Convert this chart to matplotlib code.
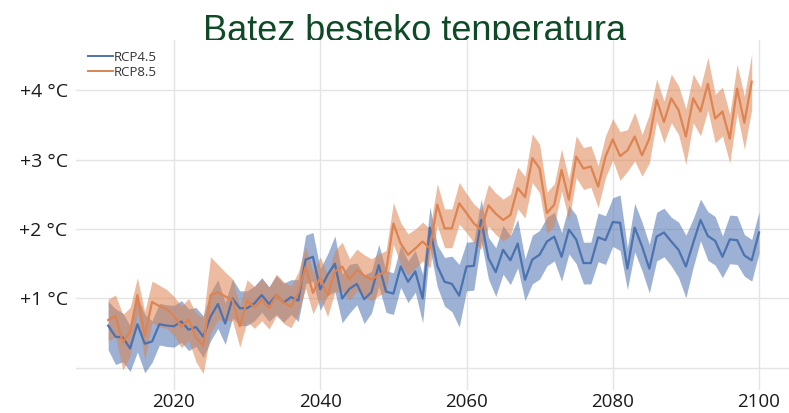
import matplotlib
matplotlib.use('Agg')
import matplotlib.pyplot as plt
import numpy as np

years_45 = list(range(2011, 2101))
years_85 = list(range(2011, 2100))

rcp45 = [0.61, 0.45, 0.44, 0.28, 0.63, 0.35, 0.38, 0.63, 0.61, 0.60,
         0.67, 0.55, 0.59, 0.45, 0.74, 0.92, 0.64, 1.00, 0.86, 0.86,
         0.93, 1.05, 0.92, 1.05, 0.94, 1.02, 0.97, 1.56, 1.60, 1.13,
         1.34, 1.50, 1.00, 1.14, 1.21, 0.99, 1.09, 1.48, 1.10, 1.07,
         1.46, 1.24, 1.39, 1.00, 2.02, 1.47, 1.24, 1.21, 1.04, 1.46,
         1.47, 2.13, 1.58, 1.38, 1.70, 1.55, 1.79, 1.27, 1.56, 1.63,
         1.82, 1.89, 1.60, 1.99, 1.85, 1.51, 1.51, 1.88, 1.84, 2.10,
         2.09, 1.43, 2.02, 1.75, 1.43, 1.89, 1.95, 1.82, 1.70, 1.46,
         1.80, 2.13, 1.90, 1.83, 1.60, 1.85, 1.84, 1.62, 1.55, 1.95]

rcp45_spread = [0.35, 0.40, 0.35, 0.33, 0.40, 0.42, 0.30, 0.30, 0.30, 0.30,
                0.30, 0.30, 0.28, 0.30, 0.35, 0.35, 0.30, 0.28, 0.25, 0.25,
                0.25, 0.25, 0.25, 0.28, 0.28, 0.25, 0.30, 0.35, 0.35, 0.30,
                0.30, 0.40, 0.35, 0.35, 0.30, 0.35, 0.30, 0.30, 0.30, 0.30,
                0.30, 0.30, 0.30, 0.35, 0.30, 0.30, 0.35, 0.40, 0.45, 0.35,
                0.35, 0.30, 0.30, 0.35, 0.35, 0.35, 0.35, 0.30, 0.35, 0.35,
                0.35, 0.35, 0.35, 0.35, 0.35, 0.30, 0.30, 0.35, 0.35, 0.35,
                0.40, 0.30, 0.35, 0.35, 0.35, 0.35, 0.35, 0.35, 0.40, 0.45,
                0.35, 0.30, 0.35, 0.35, 0.30, 0.35, 0.35, 0.30, 0.30, 0.30]

rcp85 = [0.69, 0.75, 0.37, 0.52, 1.05, 0.46, 0.95, 0.89, 0.85, 0.75,
         0.59, 0.70, 0.44, 0.32, 1.05, 1.09, 1.03, 0.98, 0.60, 0.97,
         0.87, 0.98, 0.86, 1.05, 0.94, 0.88, 1.08, 1.45, 1.08, 1.30,
         1.04, 1.39, 1.46, 1.27, 1.41, 1.33, 1.27, 1.34, 1.39, 2.08,
         1.79, 1.63, 1.72, 1.82, 1.72, 2.35, 2.01, 2.01, 2.37, 2.23,
         2.08, 1.99, 2.34, 2.22, 2.13, 2.20, 2.59, 2.46, 3.02, 2.87,
         2.23, 2.35, 2.85, 2.42, 3.04, 2.87, 2.90, 2.61, 3.04, 3.29,
         3.05, 3.13, 3.33, 3.06, 3.30, 3.86, 3.54, 3.88, 3.71, 3.33,
         3.88, 3.69, 4.09, 3.59, 3.69, 3.30, 4.02, 3.53, 4.12]

rcp85_spread = [0.30, 0.30, 0.40, 0.35, 0.25, 0.35, 0.30, 0.30, 0.28, 0.28,
                0.30, 0.30, 0.35, 0.40, 0.55, 0.40, 0.35, 0.30, 0.30, 0.30,
                0.30, 0.30, 0.30, 0.30, 0.30, 0.30, 0.30, 0.30, 0.30, 0.30,
                0.30, 0.30, 0.35, 0.30, 0.30, 0.30, 0.30, 0.30, 0.30, 0.30,
                0.30, 0.30, 0.28, 0.28, 0.28, 0.30, 0.28, 0.28, 0.30, 0.28,
                0.28, 0.28, 0.30, 0.30, 0.30, 0.30, 0.30, 0.30, 0.35, 0.35,
                0.30, 0.30, 0.30, 0.30, 0.30, 0.30, 0.30, 0.30, 0.30, 0.30,
                0.35, 0.30, 0.35, 0.30, 0.35, 0.30, 0.30, 0.35, 0.35, 0.40,
                0.35, 0.35, 0.38, 0.35, 0.35, 0.35, 0.35, 0.38, 0.40]

y_ticks = [0, 1, 2, 3, 4]
y_labels = ['', '+1 °C', '+2 °C', '+3 °C', '+4 °C']
x_ticks = [2020, 2040, 2060, 2080, 2100]
title = 'Batez besteko tenperatura'

blue = '#4c72b0'
orange = '#dd8452'

fig = plt.figure(figsize=(7.89, 4.13), dpi=100)
ax = fig.add_axes([76 / 789, 23 / 413, 713 / 789, 350 / 413])
ax.set_facecolor('white')

b = np.array(rcp45)
bs = np.array(rcp45_spread)
o = np.array(rcp85)
os_ = np.array(rcp85_spread)

ax.fill_between(years_45, b - bs, b + bs, color=blue, alpha=0.55, lw=0)
ax.plot(years_45, b, color=blue, lw=1.6, label='RCP4.5')
ax.fill_between(years_85, o - os_, o + os_, color=orange, alpha=0.55, lw=0)
ax.plot(years_85, o, color=orange, lw=1.6, label='RCP8.5')

ax.set_xlim(2006.6, 2104.1)
ax.set_ylim(-0.317, 4.72)
ax.set_xticks(x_ticks)
ax.set_xticklabels([str(t) for t in x_ticks], family='Open Sans', fontsize=13.5, color='#1a1a1a')
ax.set_yticks(y_ticks)
ax.set_yticklabels(y_labels, family='Open Sans', fontsize=14, color='#1a1a1a')
ax.tick_params(axis='x', length=0, pad=2)
ax.tick_params(axis='y', length=0, pad=6)
ax.grid(True, color='#e4e4e4', lw=1)
ax.set_axisbelow(True)
for s in ax.spines.values():
    s.set_visible(False)

leg = fig.legend(loc='upper left', bbox_to_anchor=(81 / 789, (413 - 44) / 413),
                 frameon=False, prop={'family': 'Open Sans', 'size': 9.5},
                 handlelength=1.9, handletextpad=0.1, labelspacing=0.15, borderpad=0)
for t in leg.get_texts():
    t.set_color('#333333')
for l in leg.get_lines():
    l.set_linewidth(1.4)

# title sits behind the axes so its lower edge gets cut like in the original
fig.text(203 / 789, (413 - 41) / 413, title, family='Liberation Sans', fontsize=26,
         color='#0f4a27', ha='left', va='baseline', zorder=-1)

fig.savefig('out.png', dpi=100)
